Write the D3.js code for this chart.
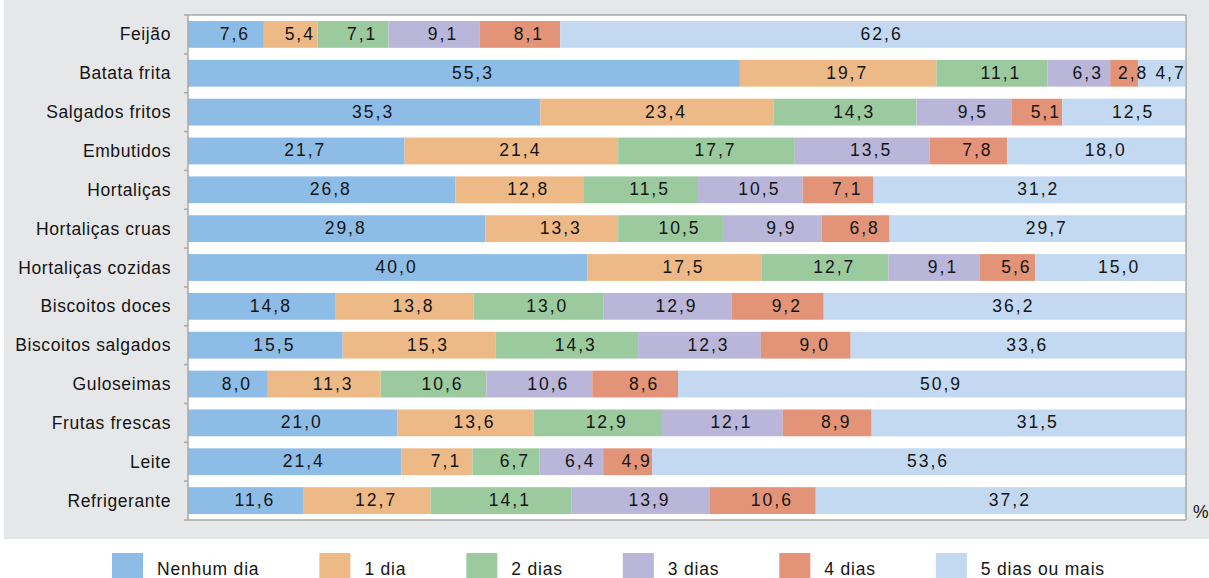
<!DOCTYPE html>
<html>
<head>
<meta charset="utf-8">
<script src="https://cdn.jsdelivr.net/npm/d3@7/dist/d3.min.js"></script>
<style>
  html, body { margin: 0; padding: 0; background: #ffffff; }
  svg { display: block; }
  text { font-family: "Liberation Sans", Arial, sans-serif; fill: #141414; }
</style>
</head>
<body>
<svg id="chart" width="1209" height="578"></svg>
<script>
const categories = ["Feijão", "Batata frita", "Salgados fritos", "Embutidos", "Hortaliças",
  "Hortaliças cruas", "Hortaliças cozidas", "Biscoitos doces", "Biscoitos salgados",
  "Guloseimas", "Frutas frescas", "Leite", "Refrigerante"];
const seriesNames = ["Nenhum dia", "1 dia", "2 dias", "3 dias", "4 dias", "5 dias ou mais"];
const nenhumDia = [7.6, 55.3, 35.3, 21.7, 26.8, 29.8, 40.0, 14.8, 15.5, 8.0, 21.0, 21.4, 11.6];
const umDia     = [5.4, 19.7, 23.4, 21.4, 12.8, 13.3, 17.5, 13.8, 15.3, 11.3, 13.6, 7.1, 12.7];
const doisDias  = [7.1, 11.1, 14.3, 17.7, 11.5, 10.5, 12.7, 13.0, 14.3, 10.6, 12.9, 6.7, 14.1];
const tresDias  = [9.1, 6.3, 9.5, 13.5, 10.5, 9.9, 9.1, 12.9, 12.3, 10.6, 12.1, 6.4, 13.9];
const quatroDias= [8.1, 2.8, 5.1, 7.8, 7.1, 6.8, 5.6, 9.2, 9.0, 8.6, 8.9, 4.9, 10.6];
const cincoMais = [62.6, 4.7, 12.5, 18.0, 31.2, 29.7, 15.0, 36.2, 33.6, 50.9, 31.5, 53.6, 37.2];
const xDomain = [0, 100];
const unitLabel = "%";

const seriesValues = [nenhumDia, umDia, doisDias, tresDias, quatroDias, cincoMais];
const colors = ["#8dbce6", "#edba87", "#9bca9e", "#b9b6d9", "#e39478", "#c2d9f1"];

const svg = d3.select("#chart");
const W = 1209, H = 578;
const plot = { left: 188, right: 1186, top: 15, bottom: 520 };

// gray panel
svg.append("rect").attr("x", 4).attr("y", 0).attr("width", W - 4).attr("height", 539).attr("fill", "#e6e7e8");
svg.append("rect").attr("x", plot.left).attr("y", plot.top)
  .attr("width", plot.right - plot.left).attr("height", plot.bottom - plot.top).attr("fill", "#ffffff");

const x = d3.scaleLinear().domain(xDomain).range([plot.left, plot.right]);
const pad = 0.31;
const y = d3.scaleBand().domain(categories).range([plot.top, plot.bottom]).paddingInner(pad).paddingOuter(pad / 2);

svg.append("defs").append("clipPath").attr("id", "clip")
  .append("rect").attr("x", plot.left).attr("y", plot.top)
  .attr("width", plot.right - plot.left).attr("height", plot.bottom - plot.top);

const rows = categories.map((c, i) => {
  const o = { cat: c };
  seriesNames.forEach((s, j) => o[s] = seriesValues[j][i]);
  return o;
});
const stacked = d3.stack().keys(seriesNames)(rows);

const barsG = svg.append("g").attr("clip-path", "url(#clip)");
stacked.forEach((layer, j) => {
  barsG.append("g").attr("fill", colors[j])
    .selectAll("rect").data(layer).join("rect")
    .attr("x", d => x(d[0]))
    .attr("y", d => y(d.data.cat))
    .attr("width", d => Math.max(0, x(Math.min(d[1], 100)) - x(d[0])))
    .attr("height", y.bandwidth());
});

// value labels
const fmt = v => v.toFixed(1).replace(".", ",");
stacked.forEach((layer, j) => {
  svg.append("g").selectAll("text").data(layer).join("text")
    .attr("x", d => (x(d[0]) + x(Math.min(d[1], 100))) / 2 + 9)
    .attr("y", d => y(d.data.cat) + y.bandwidth() / 2 + 5.5)
    .attr("text-anchor", "middle")
    .attr("font-size", 17.5)
    .attr("letter-spacing", 2)
    .text(d => fmt(d[1] - d[0]));
});

// frame
const frameColor = "#a8a8a8";
svg.append("line").attr("x1", plot.left).attr("x2", plot.right).attr("y1", plot.top).attr("y2", plot.top)
  .attr("stroke", frameColor).attr("stroke-width", 1.5);
svg.append("line").attr("x1", plot.right).attr("x2", plot.right).attr("y1", plot.top).attr("y2", plot.bottom)
  .attr("stroke", frameColor).attr("stroke-width", 1.5);
svg.append("line").attr("x1", plot.left).attr("x2", plot.right).attr("y1", plot.bottom).attr("y2", plot.bottom)
  .attr("stroke", frameColor).attr("stroke-width", 1.5);
svg.append("line").attr("x1", plot.left).attr("x2", plot.left).attr("y1", plot.top).attr("y2", plot.bottom)
  .attr("stroke", frameColor).attr("stroke-width", 1.5);

// ticks at band boundaries
const step = y.step();
const boundaries = categories.map(c => y(c) - step * pad / 2).concat([plot.bottom]);
svg.append("g").selectAll("line").data(boundaries).join("line")
  .attr("x1", plot.left - 4).attr("x2", plot.left)
  .attr("y1", d => d).attr("y2", d => d)
  .attr("stroke", frameColor).attr("stroke-width", 1.5);

// category labels
svg.append("g").selectAll("text").data(categories).join("text")
  .attr("x", 171)
  .attr("y", d => y(d) + y.bandwidth() / 2 + 6)
  .attr("text-anchor", "end")
  .attr("font-size", 17.5)
  .attr("letter-spacing", 0.6)
  .text(d => d);

// unit
svg.append("text").attr("x", 1193).attr("y", 518).attr("font-size", 17.5).text(unitLabel);

// legend (flow layout)
const legend = svg.append("g");
let lx = 112;
seriesNames.forEach((s, j) => {
  legend.append("rect").attr("x", lx).attr("y", 553).attr("width", 31).attr("height", 31).attr("fill", colors[j]);
  const t = legend.append("text").attr("x", lx + 45).attr("y", 574.5)
    .attr("font-size", 17.5).attr("letter-spacing", 0.8).text(s);
  const w = t.node().getComputedTextLength();
  lx = lx + 45 + w + 60;
});
</script>
</body>
</html>
